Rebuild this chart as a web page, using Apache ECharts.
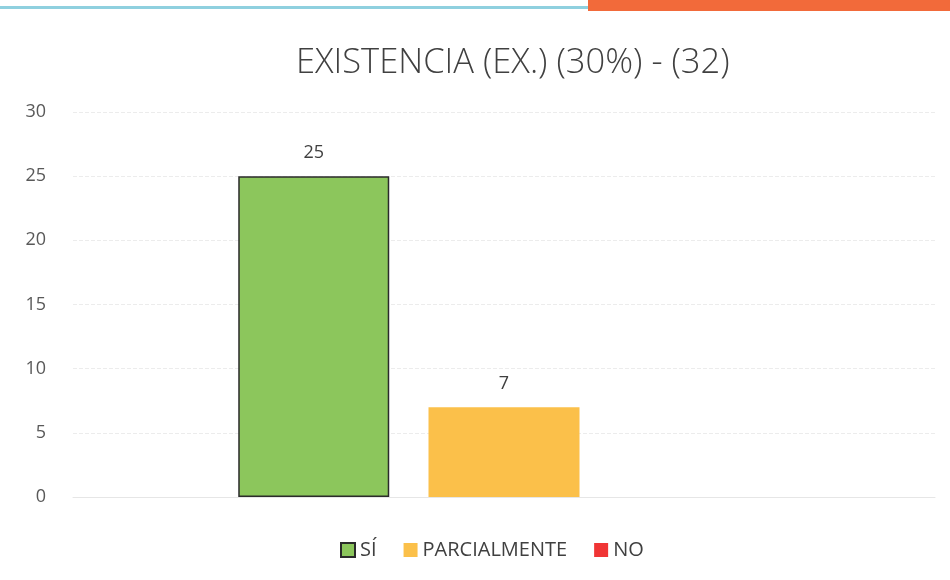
<!DOCTYPE html>
<html>
<head>
<meta charset="utf-8">
<script src="https://cdn.jsdelivr.net/npm/echarts@6/dist/echarts.min.js"></script>
<style>
  html, body { margin: 0; padding: 0; background: #fff; }
  #chart { width: 950px; height: 580px; }
</style>
</head>
<body>
<div id="chart"></div>
<script>
const categories = ['EXISTENCIA'];
const seriesNames = ['SÍ', 'PARCIALMENTE', 'NO'];
const siValues = [25];
const parcialValues = [7];
const noValues = [0];
const yTicks = [0, 5, 10, 15, 20, 25, 30];

const chart = echarts.init(document.getElementById('chart'));

const labelStyle = {
  show: true,
  position: 'top',
  distance: 14,
  color: '#404040',
  fontSize: 18,
  fontFamily: '"Open Sans", sans-serif',
};

const options = {
  animation: false,
  backgroundColor: '#fff',
  graphic: [
    { type: 'rect', shape: { x: 0, y: 6, width: 590, height: 3 }, style: { fill: '#8fd0df' } },
    { type: 'rect', shape: { x: 588, y: 0, width: 362, height: 11 }, style: { fill: '#f26a3a' } },
  ],
  title: {
    text: 'EXISTENCIA (EX.) (30%) - (32)',
    left: 291,
    top: 41,
    textStyle: {
      color: '#404040',
      fontSize: 34.5,
      fontWeight: 300,
      fontFamily: '"Open Sans", sans-serif',
    },
  },
  legend: {
    top: 535,
    left: 335,
    itemWidth: 14,
    itemHeight: 14,
    itemGap: 27,
    icon: 'rect',
    textStyle: {
      color: '#404040',
      fontSize: 20,
      padding: [0, 0, 0, 0],
      fontFamily: '"Open Sans", sans-serif',
    },
    data: seriesNames,
  },
  grid: {
    left: 73,
    right: 15,
    top: 112,
    bottom: 83,
  },
  xAxis: {
    type: 'category',
    data: categories,
    axisLine: { show: true, lineStyle: { color: '#e6e6e6' } },
    axisTick: { show: false },
    axisLabel: { show: false },
  },
  yAxis: {
    type: 'value',
    min: yTicks[0],
    max: yTicks[yTicks.length - 1],
    interval: 5,
    axisLine: { show: false },
    axisTick: { show: false },
    axisLabel: {
      color: '#595959',
      fontSize: 18,
      margin: 27,
      fontFamily: '"Open Sans", sans-serif',
    },
    splitLine: {
      lineStyle: { color: '#ececec', type: 'dashed' },
    },
  },
  series: [
    {
      name: seriesNames[0],
      type: 'bar',
      data: siValues,
      barWidth: 151,
      barGap: '26%',
      itemStyle: { color: '#8cc65c', borderColor: '#2b2b2b', borderWidth: 1.5 },
      label: labelStyle,
    },
    {
      name: seriesNames[1],
      type: 'bar',
      data: parcialValues,
      barWidth: 151,
      barGap: '26%',
      itemStyle: { color: '#fbc04a' },
      label: labelStyle,
    },
    {
      name: seriesNames[2],
      type: 'bar',
      data: noValues,
      barWidth: 151,
      barGap: '26%',
      itemStyle: { color: '#f03535' },
      label: { show: false },
    },
  ],
};

chart.setOption(options);
</script>
</body>
</html>
